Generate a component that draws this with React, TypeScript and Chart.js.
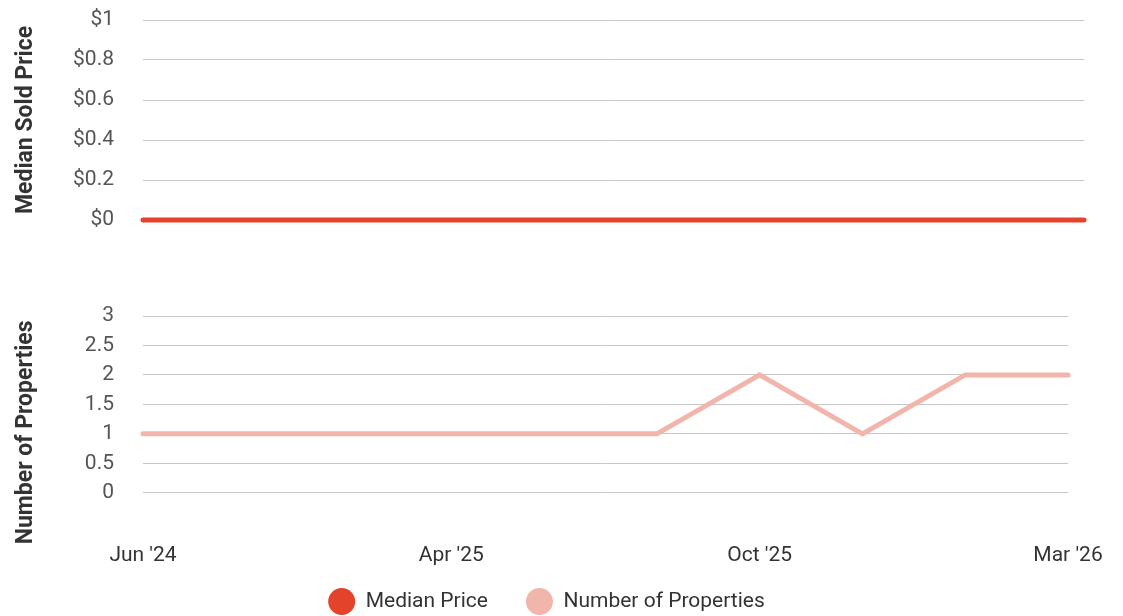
import React, { useEffect, useRef } from "react";
import { Chart, registerables } from "chart.js";

Chart.register(...registerables);

const categories = ["Jun '24", "Sep '24", "Jan '25", "Apr '25", "Jun '25", "Aug '25", "Oct '25", "Nov '25", "Jan '26", "Mar '26"];
const medianPrice = [0, 0, 0, 0, 0, 0, 0, 0, 0, 0];
const numberOfProperties = [1, 1, 1, 1, 1, 1, 2, 1, 2, 2];
const shownLabelEvery = 3;

const RED = "#E2432A";
const PINK = "#F2B5AB";
const GRID = "#c6c6c6";
const FONT = "Roboto";
const TICK_SIZE = 21;
const TITLE_SIZE = 23;

export default function App() {
  const topRef = useRef<HTMLCanvasElement>(null);
  const botRef = useRef<HTMLCanvasElement>(null);

  useEffect(() => {
    const top = new Chart(topRef.current!, {
      type: "line",
      data: {
        labels: categories,
        datasets: [
          {
            label: "Median Price",
            data: medianPrice,
            borderColor: RED,
            backgroundColor: RED,
            borderWidth: 5,
            pointRadius: 0,
            borderCapStyle: "round",
            tension: 0,
            clip: 6,
          },
        ],
      },
      options: {
        responsive: false,
        animation: false,
        devicePixelRatio: 1,
        layout: { padding: { top: 20, bottom: 20, left: 0, right: 39 } },
        plugins: { legend: { display: false }, tooltip: { enabled: false } },
        scales: {
          x: { display: false, offset: false },
          y: {
            min: 0,
            max: 1,
            ticks: {
              stepSize: 0.2,
              padding: 0,
              color: "#555",
              font: { family: FONT, size: TICK_SIZE },
              callback: (v: any) => "$" + Math.round(Number(v) * 10) / 10,
            },
            grid: { color: GRID, drawTicks: true, tickLength: 29, tickColor: "rgba(0,0,0,0)" },
            border: { display: false },
            title: {
              display: true,
              text: "Median Sold Price",
              color: "#333",
              font: { family: FONT, size: TITLE_SIZE, weight: "bold" },
              padding: { top: 12, bottom: 0 },
            },
            afterFit: (s: any) => {
              s.width = 143;
            },
          },
        },
      },
    } as any);

    const bot = new Chart(botRef.current!, {
      type: "line",
      data: {
        labels: categories,
        datasets: [
          {
            label: "Number of Properties",
            data: numberOfProperties,
            borderColor: PINK,
            backgroundColor: PINK,
            borderWidth: 5,
            pointRadius: 0,
            borderCapStyle: "round",
            tension: 0,
            clip: 6,
          },
        ],
      },
      options: {
        responsive: false,
        animation: false,
        devicePixelRatio: 1,
        layout: { padding: { top: 20, bottom: 6, left: 25, right: 55 } },
        plugins: {
          tooltip: { enabled: false },
          legend: {
            display: true,
            position: "bottom",
            labels: {
              usePointStyle: true,
              pointStyle: "circle",
              boxHeight: 19,
              boxWidth: 19,
              pointStyleWidth: 27,
              padding: 38,
              color: "#333",
              font: { family: FONT, size: TICK_SIZE },
              generateLabels: () => [
                { text: "Median Price", fillStyle: RED, strokeStyle: RED, lineWidth: 0, pointStyle: "circle", hidden: false, datasetIndex: 0, fontColor: "#333" },
                { text: "Number of Properties", fillStyle: PINK, strokeStyle: PINK, lineWidth: 0, pointStyle: "circle", hidden: false, datasetIndex: 0, fontColor: "#333" },
              ],
            },
          },
        },
        scales: {
          x: {
            offset: false,
            grid: { display: false },
            border: { display: false },
            ticks: {
              autoSkip: false,
              maxRotation: 0,
              minRotation: 0,
              padding: -14,
              color: "#333",
              font: { family: FONT, size: TICK_SIZE },
              callback: (_v: any, i: number) => (i % shownLabelEvery === 0 ? categories[i] : ""),
            },
            afterFit: (s: any) => {
              s.height = 4.3;
              s._computeLabelArea = () => undefined;
            },
          },
          y: {
            min: -0.95,
            max: 3,
            ticks: {
              stepSize: 0.5,
              padding: 0,
              color: "#555",
              font: { family: FONT, size: TICK_SIZE },
              callback: (v: any) => String(Math.round(Number(v) * 10) / 10),
            },
            afterBuildTicks: (s: any) => {
              s.ticks = s.ticks.filter((t: any) => t.value >= 0);
            },
            grid: { color: GRID, drawTicks: true, tickLength: 29, tickColor: "rgba(0,0,0,0)" },
            border: { display: false },
            title: {
              display: true,
              text: "Number of Properties",
              color: "#333",
              font: { family: FONT, size: TITLE_SIZE, weight: "bold" },
              padding: { top: -13, bottom: 0 },
            },
            afterFit: (s: any) => {
              s.width = 118;
            },
          },
        },
      },
    } as any);

    return () => {
      top.destroy();
      bot.destroy();
    };
  }, []);

  return (
    <div style={{ position: "fixed", left: 0, top: 0, width: 1123, height: 616, background: "#fff", overflow: "hidden" }}>
      <canvas ref={topRef} width={1123} height={240} style={{ position: "absolute", left: 0, top: 0, width: 1123, height: 240 }} />
      <canvas ref={botRef} width={1123} height={332} style={{ position: "absolute", left: 0, top: 296, width: 1123, height: 332 }} />
    </div>
  );
}
